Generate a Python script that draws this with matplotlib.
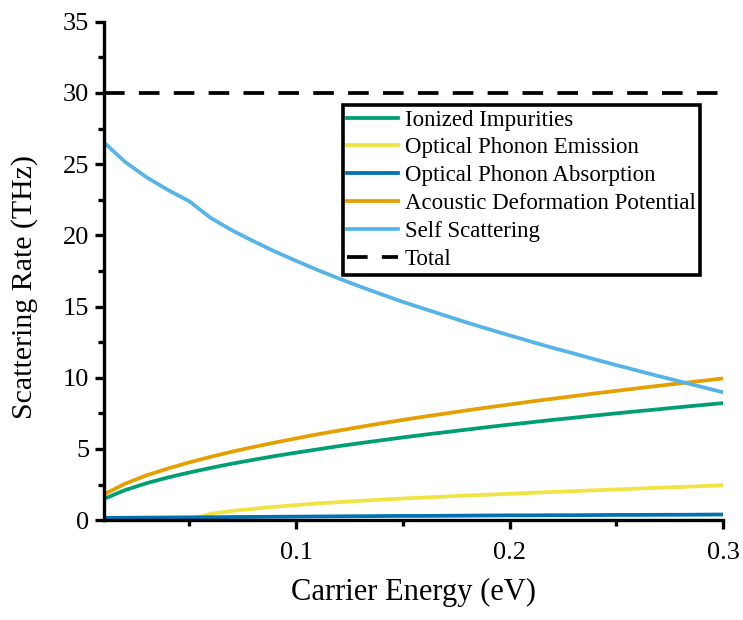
import matplotlib
matplotlib.use('Agg')
import matplotlib.pyplot as plt
import numpy as np

# Carrier energy grid (eV) and scattering rates (THz).
energy = [0.01, 0.02, 0.03, 0.04, 0.05, 0.06, 0.07, 0.08, 0.09, 0.10,
          0.11, 0.12, 0.13, 0.14, 0.15, 0.16, 0.17, 0.18, 0.19, 0.20,
          0.21, 0.22, 0.23, 0.24, 0.25, 0.26, 0.27, 0.28, 0.29, 0.30]

ionized = [1.50, 2.12, 2.60, 3.00, 3.35, 3.67, 3.97, 4.24, 4.50, 4.74,
           4.97, 5.20, 5.41, 5.61, 5.81, 6.00, 6.18, 6.36, 6.54, 6.71,
           6.87, 7.04, 7.19, 7.35, 7.50, 7.65, 7.79, 7.94, 8.08, 8.22]

emission = [0.00, 0.00, 0.00, 0.00, 0.00, 0.45, 0.65, 0.80, 0.94, 1.06,
            1.17, 1.27, 1.36, 1.44, 1.52, 1.59, 1.66, 1.73, 1.79, 1.85,
            1.92, 1.98, 2.04, 2.10, 2.16, 2.22, 2.28, 2.33, 2.39, 2.45]

absorption = [0.16, 0.17, 0.18, 0.19, 0.20, 0.21, 0.22, 0.23, 0.24, 0.25,
              0.26, 0.27, 0.28, 0.29, 0.30, 0.30, 0.31, 0.32, 0.33, 0.34,
              0.34, 0.35, 0.35, 0.36, 0.37, 0.37, 0.38, 0.38, 0.39, 0.40]

acoustic = [1.82, 2.57, 3.15, 3.63, 4.06, 4.45, 4.81, 5.14, 5.45, 5.74,
            6.03, 6.29, 6.55, 6.80, 7.04, 7.27, 7.49, 7.71, 7.92, 8.12,
            8.33, 8.52, 8.71, 8.90, 9.08, 9.26, 9.44, 9.61, 9.78, 9.95]

self_scat = [26.52, 25.14, 24.07, 23.18, 22.39, 21.22, 20.35, 19.59, 18.87, 18.21,
             17.57, 16.97, 16.40, 15.86, 15.33, 14.84, 14.36, 13.88, 13.42, 12.98,
             12.54, 12.11, 11.71, 11.29, 10.89, 10.50, 10.11, 9.74, 9.36, 8.98]

total = 30.0

plt.rcParams['font.family'] = ['Liberation Serif', 'DejaVu Serif']

fig = plt.figure(figsize=(7.43, 6.2), dpi=100)
ax = fig.add_axes([0.140, 0.161, 0.833, 0.804])

lw = 2.7
ax.plot(energy, ionized, color='#009E73', lw=lw, label='Ionized Impurities')
ax.plot(energy, emission, color='#F0E442', lw=lw, label='Optical Phonon Emission')
ax.plot(energy, absorption, color='#0072B2', lw=lw, label='Optical Phonon Absorption')
ax.plot(energy, acoustic, color='#E69F00', lw=lw, label='Acoustic Deformation Potential')
ax.plot(energy, self_scat, color='#56B4E9', lw=lw, label='Self Scattering')
ax.axhline(total, color='black', lw=lw, dashes=(5.5, 3.8), label='Total')

# Axes' settings.
ax.set_xlim(0.01, 0.3)
ax.set_ylim(0, 35)
ax.set_xticks([0.1, 0.2, 0.3])
ax.set_xticklabels(['0.1', '0.2', '0.3'])
ax.set_xticks([0.05, 0.15, 0.25], minor=True)
ax.set_yticks(np.arange(0, 36, 5))
ax.set_yticks(np.arange(2.5, 35, 5), minor=True)

ax.spines['right'].set_visible(False)
ax.spines['top'].set_visible(False)
for s in ('left', 'bottom'):
    ax.spines[s].set_linewidth(2.4)

ax.tick_params(which='major', direction='out', length=6.5, width=2.4, labelsize=19)
ax.tick_params(axis='y', which='major', pad=4)
ax.tick_params(axis='x', which='major', pad=9)
ax.tick_params(which='minor', direction='out', length=4, width=2.4)

ax.set_xlabel('Carrier Energy (eV)', fontsize=22, labelpad=10)
ax.set_ylabel('Scattering Rate (THz)', fontsize=21.5)
ax.yaxis.set_label_coords(-0.106, 0.468)

leg = ax.legend(loc='upper right', bbox_to_anchor=(0.963, 0.833), fontsize=16.5,
                frameon=True, fancybox=False, edgecolor='black', framealpha=1,
                handlelength=2.2, handletextpad=0.3, labelspacing=0.3,
                borderpad=0.2, borderaxespad=0)
leg.get_frame().set_linewidth(2.6)

plt.savefig('out.png', dpi=100)
